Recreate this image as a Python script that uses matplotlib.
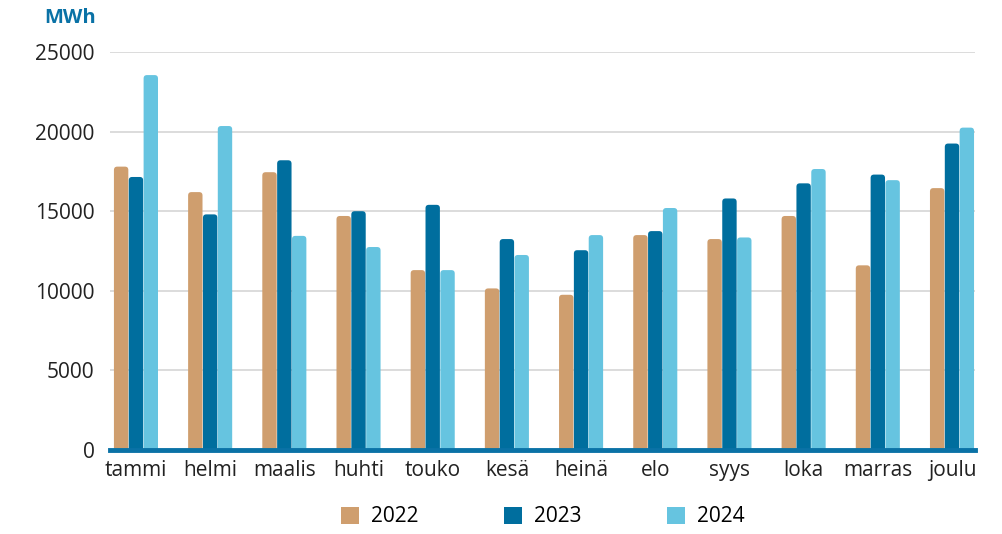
import numpy as np
import matplotlib
matplotlib.use('Agg')
from matplotlib import pyplot as plt
from matplotlib.patches import FancyBboxPatch, Patch

months = ['tammi', 'helmi', 'maalis', 'huhti', 'touko', 'kesä',
          'heinä', 'elo', 'syys', 'loka', 'marras', 'joulu']
years = ['2022', '2023', '2024']
v2022 = [17800, 16200, 17450, 14700, 11300, 10150, 9750, 13500, 13250, 14700, 11600, 16450]
v2023 = [17150, 14800, 18200, 15000, 15400, 13250, 12550, 13750, 15800, 16750, 17300, 19250]
v2024 = [23550, 20350, 13450, 12750, 11300, 12250, 13500, 15200, 13350, 17650, 16950, 20250]
yticks = [0, 5000, 10000, 15000, 20000, 25000]

colors = ['#CF9E6E', '#006E9E', '#66C4E0']
axis_blue = '#0A72A6'

plt.rcParams['font.family'] = ['Open Sans', 'DejaVu Sans']

fig = plt.figure(figsize=(10.02, 5.34), dpi=100)
ax = fig.add_axes([110 / 1002, 1 - 450 / 534, 865 / 1002, 398 / 534])

x = np.arange(len(months))
w = 0.2
ymax = 25000
xmin, xmax = -0.35, 11.31
# rounded corners: ratio of data units per pixel in y vs x
aspect = (ymax / 398) / ((xmax - xmin) / 865)
for i, (vals, c) in enumerate(zip([v2022, v2023, v2024], colors)):
    for xi, v in zip(x, vals):
        x0 = xi + (i - 1) * w - w * 0.97 / 2
        ax.add_patch(FancyBboxPatch((x0, -600), w * 0.97, v + 600,
                                    boxstyle='round,pad=0,rounding_size=0.045',
                                    mutation_aspect=aspect, facecolor=c,
                                    edgecolor='none', zorder=3))

ax.set_xlim(xmin, xmax)
ax.set_ylim(0, ymax)
ax.set_yticks(yticks)
ax.set_yticklabels([str(t) for t in yticks])
ax.set_xticks(x)
ax.set_xticklabels(months)
ax.grid(axis='y', color='#D6D6D6', linewidth=1.2, zorder=0)
for s in ['top', 'right', 'left']:
    ax.spines[s].set_visible(False)
ax.spines['bottom'].set_color(axis_blue)
ax.spines['bottom'].set_linewidth(3.5)
ax.spines['bottom'].set_zorder(4)
ax.tick_params(axis='both', length=0, labelsize=15, colors='#222222')
ax.tick_params(axis='y', pad=11)
ax.tick_params(axis='x', pad=7)

fig.text(96 / 1002, 1 - 18 / 534, 'MWh', color=axis_blue, fontsize=14.5,
         fontweight='bold', ha='right', va='center')

handles = [Patch(facecolor=c, edgecolor='none') for c in colors]
fig.legend(handles, years, loc='center', bbox_to_anchor=(543 / 1002, 1 - 517 / 534), ncol=3,
           frameon=False, fontsize=15, handlelength=0.85, handleheight=0.85,
           handletextpad=0.6, columnspacing=4.1)

fig.savefig('out.png', dpi=100)
